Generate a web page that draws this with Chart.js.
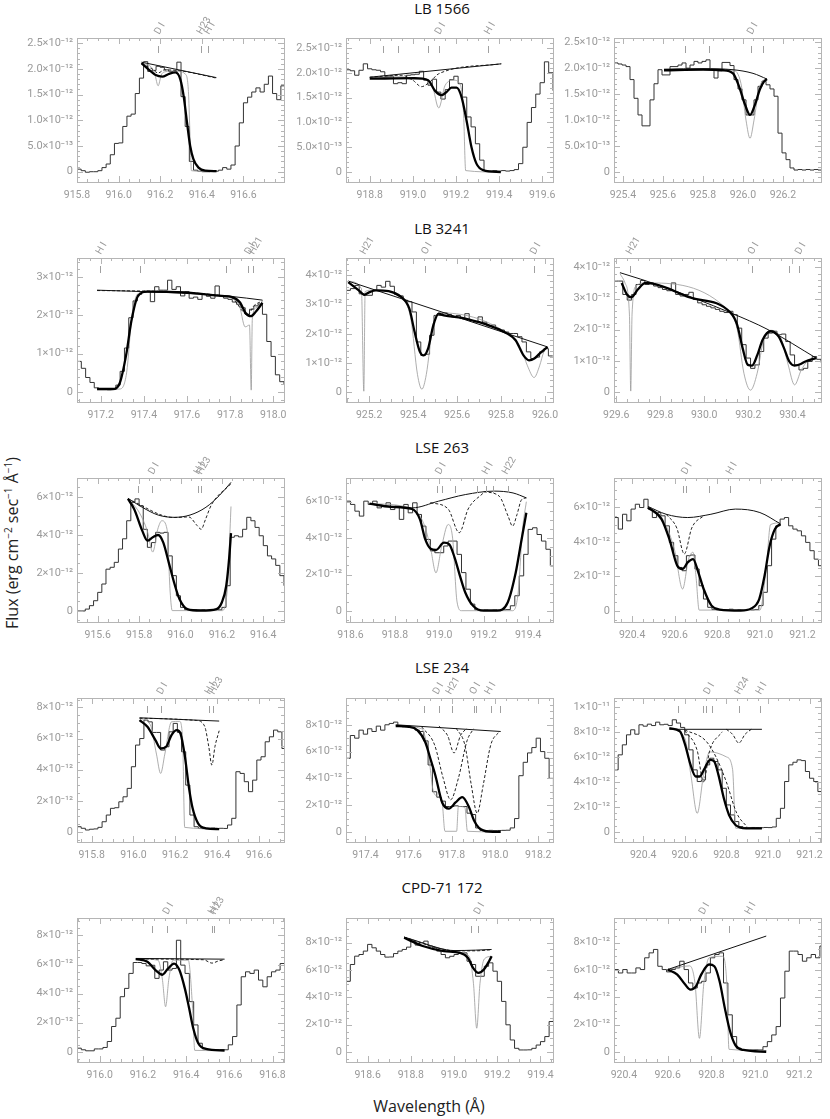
<!DOCTYPE html>
<html>
<head>
<meta charset="utf-8">
<script src="https://cdn.jsdelivr.net/npm/chart.js@4.4.1/dist/chart.umd.min.js"></script>
<style>
  html, body { margin: 0; padding: 0; background: #fff; }
  #fig { position: relative; width: 830px; height: 1119px; overflow: hidden; }
  #fig canvas { position: absolute; }
  .star { position: absolute; width: 200px; margin-left: -100px; text-align: center;
          font: 15px "Open Sans", sans-serif; color: #111; line-height: 20px; }
  #ytitle { position: absolute; left: 12px; top: 543px; white-space: nowrap;
            transform: translate(-50%, -50%) rotate(-90deg);
            font: 16px "Open Sans", sans-serif; color: #222; }
  #xtitle { position: absolute; left: 429px; top: 1106px; white-space: nowrap;
            transform: translate(-50%, -50%); font: 16px "Open Sans", sans-serif; color: #222; }
  sup { font-size: 10px; }
</style>
</head>
<body>
<div id="fig">
  <div id="ytitle">Flux (erg cm<sup>−2</sup> sec<sup>−1</sup> Å<sup>−1</sup>)</div>
  <div id="xtitle">Wavelength (Å)</div>
</div>
<script>
// star names, one per row
const stars = ['LB 1566', 'LB 3241', 'LSE 263', 'LSE 234', 'CPD-71 172'];

// tick labels
const xT1 = [915.8, 916.0, 916.2, 916.4, 916.6];
const xT2 = [918.8, 919.0, 919.2, 919.4, 919.6];
const xT3 = [925.4, 925.6, 925.8, 926.0, 926.2];
const xT4 = [917.2, 917.4, 917.6, 917.8, 918.0];
const xT5 = [925.2, 925.4, 925.6, 925.8, 926.0];
const xT6 = [929.6, 929.8, 930.0, 930.2, 930.4];
const xT7 = [915.6, 915.8, 916.0, 916.2, 916.4];
const xT8 = [918.6, 918.8, 919.0, 919.2, 919.4];
const xT9 = [920.4, 920.6, 920.8, 921.0, 921.2];
const xT11 = [917.4, 917.6, 917.8, 918.0, 918.2];
const xT13 = [916.0, 916.2, 916.4, 916.6, 916.8];

const yTa = [0, 0.5, 1, 1.5, 2, 2.5];
const yLa = ['0', '5.0×10⁻¹³', '1.0×10⁻¹²', '1.5×10⁻¹²', '2.0×10⁻¹²', '2.5×10⁻¹²'];
const yTb = [0, 1, 2, 3];
const yLb = ['0', '1×10⁻¹²', '2×10⁻¹²', '3×10⁻¹²'];
const yTc = [0, 1, 2, 3, 4];
const yLc = ['0', '1×10⁻¹²', '2×10⁻¹²', '3×10⁻¹²', '4×10⁻¹²'];
const yTd = [0, 2, 4, 6];
const yLd = ['0', '2×10⁻¹²', '4×10⁻¹²', '6×10⁻¹²'];
const yTe = [0, 2, 4, 6, 8];
const yLe = ['0', '2×10⁻¹²', '4×10⁻¹²', '6×10⁻¹²', '8×10⁻¹²'];
const yTf = [0, 2, 4, 6, 8, 10];
const yLf = ['0', '2×10⁻¹²', '4×10⁻¹²', '6×10⁻¹²', '8×10⁻¹²', '1×10⁻¹¹'];

// observed spectra: first bin wavelength + flux per 0.02 A bin (units 1e-12)
const binWidth = 0.02;
const p1Start = 915.80;
const p1Flux = [0.05,0.02,-0.01,0.0,0.0,0.02,0.08,0.15,0.33,0.55,0.56,0.88,1.08,1.12,1.52,1.82,2.14,1.95,1.97,2.05,2.03,1.98,1.95,1.93,2.13,1.46,0.88,0.2,0.03,0.01,0.0,0.0,0.02,0.01,0.03,0.08,0.05,0.13,0.5,0.95,1.34,1.45,1.55,1.63,1.55,1.7,1.86,1.52,1.4,1.67];
const p2Start = 918.69;
const p2Flux = [2.06,2.04,1.95,2.05,2.18,2.08,2.06,2.05,2.02,1.93,1.93,1.78,1.8,1.78,1.95,1.96,1.97,2.03,1.85,1.75,1.87,1.61,1.47,1.66,1.86,1.93,1.78,1.51,1.11,0.91,0.57,0.24,0.03,0.02,0.03,0.02,0.03,0.02,0.03,0.05,0.17,0.5,1.0,1.3,1.57,1.8,2.22,2.0,1.64];
const p3Start = 925.355;
const p3Flux = [2.1,2.08,2.06,2.03,1.78,1.42,1.1,0.89,0.89,1.39,1.7,1.97,1.87,1.87,2.03,2.03,2.06,2.1,2.0,2.06,2.13,2.1,2.13,2.16,1.97,1.81,1.95,2.11,2.11,2.05,1.78,1.6,1.39,1.1,1.1,1.39,1.65,1.75,1.68,1.6,1.46,0.75,0.37,0.24,0.08,0.04,0.05,0.04,0.05,0.04,0.05,0.04];
const p4Start = 917.09;
const p4Flux = [0.8,0.62,0.38,0.25,0.11,0.07,0.07,0.06,0.07,0.18,0.54,1.15,1.94,2.38,2.55,2.62,2.62,2.36,2.75,2.66,2.66,2.92,2.68,2.75,2.51,2.62,2.45,2.48,2.42,2.55,2.5,2.45,2.77,2.5,2.45,2.42,2.35,2.29,2.2,2.03,2.16,2.25,2.3,2.03,1.32,0.93,0.45,0.27,0.2];
const p5Start = 925.095;
const p5Flux = [3.49,3.55,3.66,3.37,3.32,3.32,3.49,3.66,3.6,3.8,3.63,3.35,3.3,3.15,3.1,2.75,1.72,1.26,1.3,1.95,2.63,2.63,2.72,2.66,2.58,2.63,2.52,2.69,2.45,2.4,2.58,2.4,2.27,2.3,2.18,2.13,2.06,2.01,2.01,1.9,1.72,1.38,1.15,1.2,1.38,1.49,1.24];
const p6Start = 929.59;
const p6Flux = [3.56,3.56,3.13,2.95,3.13,3.45,3.58,3.45,3.5,3.4,3.35,3.29,3.25,3.5,3.13,3.08,3.13,3.2,2.97,2.86,2.8,2.75,2.7,2.65,2.59,2.55,2.59,2.48,2.05,1.52,1.09,0.76,0.87,1.3,1.73,1.89,1.95,1.84,1.86,1.62,1.19,0.87,0.71,0.76,0.98,1.14,1.05,0.95];
const p7Start = 915.50;
const p7Flux = [0.0,0.0,0.1,0.28,0.54,0.98,1.42,2.2,2.3,2.56,3.26,3.8,4.75,5.72,5.9,5.54,4.3,3.35,3.6,4.14,4.1,4.14,2.9,1.86,0.8,0.19,0.07,0.05,0.07,0.06,0.07,0.05,0.06,0.07,0.06,0.19,1.33,3.88,3.96,3.9,4.3,4.93,4.75,4.4,3.96,3.44,2.9,2.74,2.4,1.86,1.33];
const p8Start = 918.58;
const p8Flux = [6.03,5.85,5.48,5.21,6.03,5.85,6.03,5.66,5.75,5.94,5.57,5.75,5.03,5.85,5.39,5.94,5.3,4.66,3.93,3.3,3.2,3.2,3.57,3.84,3.84,3.11,2.11,1.2,0.38,0.07,0.05,0.07,0.06,0.07,0.05,0.07,0.08,0.29,0.84,1.93,3.11,4.48,4.57,4.2,3.84,3.39,2.48,2.3];
const p9Start = 920.315;
const p9Flux = [5.41,4.74,5.6,5.22,5.9,6.18,5.99,6.47,5.9,5.41,5.7,5.51,4.93,3.97,3.2,2.52,2.33,3.2,3.24,2.43,1.46,0.69,0.21,0.08,0.06,0.08,0.07,0.1,0.06,0.08,0.07,0.09,0.06,0.08,0.31,1.08,2.62,4.16,4.93,5.32,5.41,4.93,4.74,4.64,4.35,3.97,3.49,3.0,2.62,2.24];
const p10Start = 915.73;
const p10Flux = [0.34,0.24,0.13,0.18,0.2,0.3,0.66,1.09,1.52,1.56,1.94,2.26,2.8,4.19,5.58,6.0,7.18,7.07,6.39,6.39,5.26,5.47,6.43,6.97,6.39,5.15,3.01,1.09,0.34,0.24,0.22,0.24,0.25,0.22,0.24,0.23,0.45,0.88,3.87,3.76,3.23,2.59,3.33,4.62,4.83,5.79,6.11,6.54,6.43,5.36,4.83];
const p11Start = 917.31;
const p11Flux = [5.5,7.2,7.0,7.6,7.3,7.7,7.5,7.9,7.6,8.0,8.1,8.2,7.95,7.85,7.9,7.8,7.6,7.5,6.8,5.0,3.0,2.6,2.3,1.9,1.9,1.95,1.9,1.9,1.4,1.3,0.3,0.12,0.1,0.12,0.1,0.11,0.12,0.13,0.3,1.0,4.2,5.2,5.9,6.3,7.0,6.0,5.5,4.0,2.6];
const p12Start = 920.26;
const p12Flux = [4.96,6.16,6.96,7.76,8.16,7.81,8.56,8.45,8.61,8.5,8.77,8.56,8.6,8.5,8.96,8.7,8.35,7.76,6.56,4.96,4.03,4.16,5.36,5.89,5.63,4.96,3.49,2.16,1.36,0.83,0.43,0.35,0.33,0.36,0.35,0.34,0.36,0.35,0.4,1.09,1.89,4.03,5.36,5.57,5.76,5.7,4.83,4.29,4.03,3.23,3.09];
const p13Start = 915.895;
const p13Flux = [0.25,0.14,0.07,0.07,0.2,0.2,0.3,0.71,1.74,2.31,3.79,4.36,5.39,6.14,6.14,6.07,5.91,5.95,5.05,5.62,6.19,5.62,5.73,7.67,5.96,5.39,3.45,1.85,0.59,0.2,0.14,0.12,0.14,0.15,0.14,0.48,1.05,3.22,5.16,5.5,5.39,5.62,4.93,4.47,5.16,5.5,5.62,6.07,6.07];
const p14Start = 918.50;
const p14Flux = [5.17,6.4,7.01,7.13,7.38,7.87,7.62,7.38,7.13,6.94,6.95,7.2,7.38,7.5,7.67,8.11,7.82,7.99,8.11,7.75,7.62,7.38,7.13,6.89,7.0,7.13,7.25,7.25,6.64,6.4,5.54,5.54,6.27,6.52,5.91,5.17,3.7,1.99,0.88,0.27,0.15,0.15,0.16,0.27,0.51,0.76,1.13,2.23,3.7];
const p15Start = 920.355;
const p15Flux = [6.03,5.78,6.03,5.78,5.78,6.15,6.03,6.89,7.25,7.5,6.27,6.03,5.86,6.03,6.15,6.64,6.03,5.05,4.68,5.05,5.17,5.78,6.89,7.13,7.25,5.05,2.72,1.13,0.27,0.15,0.14,0.15,0.16,0.15,0.39,0.76,1.25,1.86,3.95,5.91,7.38,7.38,7.13,6.64,6.89,7.13,6.89,7.75,7.99];

// model curves [wavelength, flux]: fit (thick), intrinsic (thin grey), continuum, components (dashed)
const p1Fit = [[916.11,2.11],[916.146,1.98],[916.178,1.88],[916.21,1.85],[916.241,1.9],[916.273,1.93],[916.297,1.79],[916.313,1.46],[916.329,0.95],[916.344,0.5],[916.36,0.24],[916.384,0.08],[916.416,0.02],[916.471,0.01]];
const p1Thin = [[916.11,2.11],[916.16,2.02],[916.175,1.88],[916.19,1.67],[916.205,1.88],[916.22,1.94],[916.28,1.96],[916.32,1.9],[916.335,1.6],[916.345,0.5],[916.35,0.02],[916.47,0.0]];
const p1Cont = [[916.11,2.13],[916.47,1.83]];
const p1Dash = [[[916.11,2.1],[916.16,2.0],[916.19,1.92],[916.22,1.98],[916.3,1.96],[916.47,1.82]]];

const p2Fit = [[918.80,1.88],[919.009,1.89],[919.071,1.85],[919.102,1.64],[919.133,1.55],[919.156,1.61],[919.179,1.7],[919.203,1.7],[919.226,1.51],[919.249,1.04],[919.272,0.5],[919.295,0.17],[919.326,0.04],[919.408,0.0]];
const p2Thin = [[918.80,1.9],[918.95,1.92],[919.0,1.86],[919.05,1.88],[919.09,1.75],[919.12,1.29],[919.15,1.75],[919.19,1.85],[919.215,1.8],[919.235,1.2],[919.245,0.03],[919.408,0.0]];
const p2Cont = [[918.80,1.91],[919.41,2.18]];
const p2Dash = [[[918.80,1.91],[918.95,1.95],[919.0,1.85],[919.04,1.72],[919.08,1.82],[919.12,1.98],[919.41,2.18]]];

const p3Fit = [[925.605,1.96],[925.8,1.97],[925.9,1.96],[925.95,1.9],[925.98,1.65],[926.01,1.3],[926.035,1.1],[926.06,1.3],[926.085,1.6],[926.105,1.74],[926.12,1.79]];
const p3Thin = [[925.605,1.97],[925.95,1.96],[925.99,1.7],[926.015,1.0],[926.035,0.65],[926.055,1.0],[926.08,1.6],[926.1,1.76],[926.12,1.79]];
const p3Cont = [[925.605,1.98],[925.8,1.99],[925.95,1.97],[926.05,1.9],[926.12,1.79]];
const p3Dash = [];

const p4Fit = [[917.183,0.08],[917.256,0.08],[917.288,0.23],[917.318,0.97],[917.342,1.85],[917.372,2.5],[917.416,2.62],[917.589,2.6],[917.761,2.51],[917.81,2.48],[917.847,2.33],[917.871,2.07],[917.896,1.98],[917.921,2.11],[917.95,2.33]];
const p4Thin = [[917.183,0.06],[917.29,0.08],[917.32,0.5],[917.345,2.0],[917.37,2.55],[917.42,2.64],[917.76,2.5],[917.84,2.3],[917.87,1.7],[917.89,1.75],[917.898,0.05],[917.903,1.9],[917.92,2.2],[917.95,2.35]];
const p4Cont = [[917.183,2.66],[917.5,2.6],[917.8,2.5],[917.95,2.4]];
const p4Dash = [[[917.183,2.65],[917.8,2.49],[917.86,2.1],[917.88,2.0],[917.91,2.25],[917.95,2.38]]];

const p5Fit = [[925.105,3.77],[925.153,3.49],[925.178,3.34],[925.202,3.43],[925.231,3.49],[925.347,3.26],[925.383,2.86],[925.407,2.06],[925.431,1.38],[925.448,1.26],[925.468,1.49],[925.492,2.29],[925.516,2.69],[925.54,2.63],[925.637,2.52],[925.83,2.0],[925.866,1.78],[925.902,1.26],[925.927,1.09],[925.951,1.15],[925.975,1.32],[926.011,1.55]];
const p5Thin = [[925.105,3.8],[925.165,3.55],[925.176,0.03],[925.182,3.45],[925.22,3.5],[925.35,3.2],[925.39,2.5],[925.42,0.6],[925.44,0.1],[925.46,0.6],[925.49,2.3],[925.52,2.72],[925.83,2.0],[925.89,1.5],[925.92,0.9],[925.95,0.5],[925.975,0.9],[925.995,1.4],[926.011,1.55]];
const p5Cont = [[925.104,3.81],[926.011,1.55]];
const p5Dash = [];

const p6Fit = [[929.625,3.5],[929.649,3.13],[929.669,3.04],[929.698,3.29],[929.734,3.5],[929.806,3.4],[929.927,3.05],[930.12,2.54],[930.149,2.16],[930.174,1.41],[930.198,0.87],[930.217,0.85],[930.241,1.19],[930.265,1.68],[930.301,1.95],[930.338,1.78],[930.362,1.41],[930.386,0.98],[930.41,0.85],[930.435,0.89],[930.459,0.98],[930.507,1.09]];
const p6Thin = [[929.617,3.8],[929.64,3.5],[929.66,2.5],[929.666,0.03],[929.672,2.5],[929.69,3.4],[929.734,3.5],[930.12,2.54],[930.15,2.0],[930.18,0.6],[930.21,0.06],[930.24,0.6],[930.27,1.7],[930.3,1.98],[930.35,1.7],[930.38,0.9],[930.41,0.23],[930.44,0.7],[930.47,1.0],[930.507,1.09]];
const p6Cont = [[929.617,3.83],[929.806,3.4],[930.12,2.54],[930.29,2.0],[930.508,1.09]];
const p6Dash = [];

const p7Fit = [[915.746,5.9],[915.776,5.37],[915.815,4.23],[915.84,3.7],[915.866,3.88],[915.892,4.0],[915.917,3.6],[915.943,2.56],[915.969,1.5],[915.995,0.63],[916.033,0.1],[916.098,0.02],[916.174,0.1],[916.2,0.46],[916.221,1.33],[916.236,2.9],[916.244,4.1]];
const p7Thin = [[915.746,5.9],[915.8,5.2],[915.84,4.2],[915.866,3.1],[915.89,4.3],[915.91,4.75],[915.935,4.3],[915.95,1.0],[915.96,0.02],[916.2,0.02],[916.225,1.0],[916.244,5.5]];
const p7Cont = [[915.746,5.93],[915.815,5.46],[915.892,5.05],[915.969,4.93],[916.046,5.05],[916.123,5.46],[916.187,6.07],[916.244,6.77]];
const p7Dash = [[[915.746,5.9],[915.969,4.92],[916.04,4.95],[916.08,4.5],[916.1,4.3],[916.12,4.8],[916.15,5.6],[916.244,6.7]]];

const p8Fit = [[918.686,5.9],[918.781,5.72],[918.877,5.6],[918.913,5.03],[918.937,3.93],[918.961,3.42],[918.985,3.35],[919.021,3.75],[919.045,3.66],[919.069,2.93],[919.093,1.93],[919.117,1.02],[919.152,0.29],[919.2,0.02],[919.26,0.02],[919.308,0.47],[919.344,2.1],[919.368,3.75],[919.392,5.39]];
const p8Thin = [[918.686,5.9],[918.877,5.62],[918.93,4.8],[918.96,3.5],[918.985,2.1],[919.01,3.5],[919.04,4.75],[919.06,4.0],[919.08,0.5],[919.1,0.02],[919.33,0.02],[919.355,1.0],[919.375,4.5],[919.392,6.0]];
const p8Cont = [[918.686,5.9],[918.877,5.66],[918.997,6.03],[919.117,6.39],[919.248,6.58],[919.332,6.48],[919.392,6.21]];
const p8Dash = [[[919.2,6.55],[919.27,6.3],[919.31,5.2],[919.33,4.66],[919.35,5.3],[919.37,6.1],[919.392,6.21]],
                [[918.96,5.95],[919.04,5.6],[919.09,4.3],[919.13,5.6],[919.2,6.5]]];

const p9Fit = [[920.475,5.99],[920.538,5.32],[920.575,4.16],[920.612,2.62],[920.637,2.43],[920.661,2.81],[920.686,3.0],[920.711,2.24],[920.736,1.27],[920.773,0.31],[920.811,0.08],[920.91,0.02],[920.96,0.15],[920.997,0.69],[921.022,2.04],[921.046,3.78],[921.071,4.74],[921.096,5.03]];
const p9Thin = [[920.475,6.0],[920.54,5.4],[920.6,3.5],[920.637,1.27],[920.665,3.0],[920.686,3.4],[920.7,2.0],[920.715,0.05],[921.0,0.05],[921.03,2.5],[921.05,5.0],[921.096,5.1]];
const p9Cont = [[920.475,6.05],[920.56,5.6],[920.661,5.41],[920.77,5.6],[920.885,5.9],[921.0,5.7],[921.096,5.05]];
const p9Dash = [[[920.56,5.6],[920.61,4.8],[920.645,3.3],[920.68,4.8],[920.74,5.55]]];

const p10Fit = [[916.029,7.18],[916.067,6.75],[916.105,5.9],[916.131,5.36],[916.156,5.47],[916.182,6.22],[916.207,6.54],[916.225,6.32],[916.245,4.94],[916.266,2.8],[916.283,1.52],[916.309,0.56],[916.347,0.24],[916.41,0.19]];
const p10Thin = [[916.029,7.3],[916.08,6.9],[916.11,5.0],[916.13,3.76],[916.15,5.0],[916.182,7.07],[916.22,7.1],[916.235,6.0],[916.245,0.3],[916.41,0.2]];
const p10Cont = [[916.029,7.33],[916.41,7.12]];
const p10Dash = [[[916.029,7.3],[916.3,7.16],[916.34,6.8],[916.36,5.5],[916.375,4.29],[916.39,5.5],[916.41,6.5]]];

const p11Fit = [[917.54,7.9],[917.6,7.85],[917.64,7.6],[917.677,6.7],[917.7,5.5],[917.724,4.2],[917.755,2.2],[917.786,1.74],[917.817,2.2],[917.848,2.6],[917.879,1.87],[917.902,0.87],[917.925,0.3],[917.972,0.02],[918.026,0.0]];
const p11Thin = [[917.54,7.95],[917.66,7.7],[917.69,6.0],[917.715,3.0],[917.74,2.6],[917.755,2.2],[917.768,0.05],[917.822,0.05],[917.83,1.9],[917.86,1.85],[917.872,0.05],[918.026,0.0]];
const p11Cont = [[917.54,8.0],[918.026,7.5]];
const p11Dash = [[[917.66,7.85],[917.72,6.5],[917.76,4.0],[917.794,2.4],[917.83,4.0],[917.87,6.8],[917.9,7.7]],
                 [[917.82,7.75],[917.86,6.5],[917.89,3.5],[917.917,1.4],[917.945,3.5],[917.98,6.5],[918.02,7.5]],
                 [[917.74,7.9],[917.78,7.2],[917.81,5.9],[917.84,7.2],[917.87,7.75]]];

const p12Fit = [[920.526,8.29],[920.577,8.03],[920.602,6.96],[920.628,5.36],[920.653,4.43],[920.671,4.43],[920.696,5.09],[920.722,5.76],[920.742,5.63],[920.762,4.56],[920.788,2.69],[920.813,1.36],[920.844,0.56],[920.895,0.29],[920.971,0.29]];
const p12Thin = [[920.526,8.3],[920.6,7.5],[920.63,4.5],[920.66,1.49],[920.69,4.5],[920.72,6.4],[920.8,6.0],[920.83,5.0],[920.845,0.3],[920.971,0.28]];
const p12Cont = [[920.526,8.2],[920.971,8.2]];
const p12Dash = [[[920.8,8.2],[920.83,7.8],[920.86,7.1],[920.89,7.8],[920.92,8.2]],
                 [[920.6,8.1],[920.66,6.5],[920.69,4.0],[920.72,6.5],[920.78,8.0]],
                 [[920.6,8.15],[920.7,7.3],[920.75,6.0],[920.8,4.0],[920.85,1.5],[920.9,0.4]]];

const p13Fit = [[916.167,6.37],[916.221,6.19],[916.258,5.62],[916.29,5.3],[916.315,5.7],[916.344,6.07],[916.369,5.62],[916.394,4.36],[916.414,2.99],[916.433,1.62],[916.456,0.59],[916.492,0.2],[916.578,0.09]];
const p13Thin = [[916.167,6.4],[916.27,6.3],[916.29,5.0],[916.305,3.1],[916.32,5.0],[916.34,6.3],[916.41,6.3],[916.43,3.0],[916.44,0.1],[916.578,0.08]];
const p13Cont = [[916.167,6.42],[916.578,6.37]];
const p13Dash = [[[916.167,6.38],[916.48,6.33],[916.52,6.1],[916.55,6.25],[916.578,6.33]]];

const p14Fit = [[918.769,8.36],[918.855,7.75],[918.953,7.38],[919.027,7.25],[919.064,6.89],[919.088,6.15],[919.113,5.78],[919.138,6.03],[919.162,6.64],[919.174,7.01]];
const p14Thin = [[918.769,8.4],[919.02,7.3],[919.07,7.0],[919.09,5.0],[919.105,1.74],[919.12,5.0],[919.14,6.8],[919.174,7.0]];
const p14Cont = [[918.769,8.41],[918.85,8.0],[918.93,7.6],[919.0,7.42],[919.1,7.45],[919.174,7.5]];
const p14Dash = [[[918.769,8.4],[918.93,7.58],[919.0,7.4],[919.1,7.4],[919.174,7.48]]];

const p15Fit = [[920.60,6.03],[920.644,5.66],[920.68,4.93],[920.704,4.56],[920.729,4.8],[920.753,5.66],[920.789,6.4],[920.813,6.27],[920.837,5.17],[920.861,3.21],[920.885,1.5],[920.909,0.51],[920.946,0.15],[921.05,0.02]];
const p15Thin = [[920.60,6.03],[920.7,6.3],[920.725,5.0],[920.745,1.0],[920.765,5.0],[920.79,6.9],[920.85,7.0],[920.87,5.0],[920.88,0.2],[921.05,0.1]];
const p15Cont = [[920.60,6.03],[921.05,8.48]];
const p15Dash = [];

// line identifications: tick positions and labels
const p1Marks = [916.19, 916.395, 916.43];
const p1Labels = [[916.19, 'D I'], [916.395, 'H23'], [916.43, 'H I']];
const p2Marks = [918.86, 918.93, 919.07, 919.12, 919.35];
const p2Labels = [[919.12, 'D I'], [919.35, 'H I']];
const p3Marks = [925.71, 925.83, 926.04, 926.1];
const p3Labels = [[926.04, 'D I']];
const p4Marks = [917.195, 917.38, 917.78, 917.885, 917.905];
const p4Labels = [[917.195, 'H I'], [917.885, 'D I'], [917.905, 'H21']];
const p5Marks = [925.177, 925.455, 925.64, 925.95];
const p5Labels = [[925.177, 'H21'], [925.455, 'O I'], [925.95, 'D I']];
const p6Marks = [929.663, 930.216, 930.385, 930.43];
const p6Labels = [[929.663, 'H21'], [930.216, 'O I'], [930.43, 'D I']];
const p7Marks = [915.796, 915.864, 916.083, 916.097];
const p7Labels = [[915.864, 'D I'], [916.083, 'H I'], [916.097, 'H23']];
const p8Marks = [918.99, 919.01, 919.07, 919.17, 919.21, 919.24, 919.31];
const p8Labels = [[919.0, 'D I'], [919.21, 'H I'], [919.3, 'H22']];
const p9Marks = [920.64, 920.653, 920.76, 920.86];
const p9Labels = [[920.65, 'D I'], [920.86, 'H I']];
const p10Marks = [916.067, 916.13, 916.36, 916.38];
const p10Labels = [[916.13, 'D I'], [916.36, 'H I'], [916.38, 'H23']];
const p11Marks = [917.673, 917.739, 917.802, 917.902, 917.913, 917.98, 918.023];
const p11Labels = [[917.73, 'D I'], [917.79, 'H21'], [917.9, 'O I'], [917.97, 'H I']];
const p12Marks = [920.57, 920.69, 920.7, 920.73, 920.86, 920.96];
const p12Labels = [[920.71, 'D I'], [920.86, 'H24'], [920.96, 'H I']];
const p13Marks = [916.24, 916.31, 916.52, 916.53];
const p13Labels = [[916.31, 'D I'], [916.52, 'H I'], [916.53, 'H23']];
const p14Marks = [919.08, 919.11];
const p14Labels = [[919.11, 'D I']];
const p15Marks = [920.75, 920.77, 920.88, 920.97];
const p15Labels = [[920.76, 'D I'], [920.97, 'H I']];

const panels = [
  {row: 0, col: 0, start: p1Start, flux: p1Flux, fit: p1Fit, thin: p1Thin, cont: p1Cont, dash: p1Dash, marks: p1Marks, labels: p1Labels, xr: [915.8, 916.795], xt: xT1, yr: [-0.2, 2.6], yt: yTa, yl: yLa, ym: 5},
  {row: 0, col: 1, start: p2Start, flux: p2Flux, fit: p2Fit, thin: p2Thin, cont: p2Cont, dash: p2Dash, marks: p2Marks, labels: p2Labels, xr: [918.69, 919.65], xt: xT2, yr: [-0.2, 2.7], yt: yTa, yl: yLa, ym: 5},
  {row: 0, col: 2, start: p3Start, flux: p3Flux, fit: p3Fit, thin: p3Thin, cont: p3Cont, dash: p3Dash, marks: p3Marks, labels: p3Labels, xr: [925.355, 926.39], xt: xT3, yr: [-0.19, 2.58], yt: yTa, yl: yLa, ym: 5},
  {row: 1, col: 0, start: p4Start, flux: p4Flux, fit: p4Fit, thin: p4Thin, cont: p4Cont, dash: p4Dash, marks: p4Marks, labels: p4Labels, xr: [917.09, 918.05], xt: xT4, yr: [-0.26, 3.5], yt: yTb, yl: yLb, ym: 5},
  {row: 1, col: 1, start: p5Start, flux: p5Flux, fit: p5Fit, thin: p5Thin, cont: p5Cont, dash: p5Dash, marks: p5Marks, labels: p5Labels, xr: [925.095, 926.036], xt: xT5, yr: [-0.34, 4.6], yt: yTc, yl: yLc, ym: 5},
  {row: 1, col: 2, start: p6Start, flux: p6Flux, fit: p6Fit, thin: p6Thin, cont: p6Cont, dash: p6Dash, marks: p6Marks, labels: p6Labels, xr: [929.59, 930.53], xt: xT6, yr: [-0.32, 4.3], yt: yTc, yl: yLc, ym: 5},
  {row: 2, col: 0, start: p7Start, flux: p7Flux, fit: p7Fit, thin: p7Thin, cont: p7Cont, dash: p7Dash, marks: p7Marks, labels: p7Labels, xr: [915.5, 916.5], xt: xT7, yr: [-0.58, 7.0], yt: yTd, yl: yLd, ym: 4},
  {row: 2, col: 1, start: p8Start, flux: p8Flux, fit: p8Fit, thin: p8Thin, cont: p8Cont, dash: p8Dash, marks: p8Marks, labels: p8Labels, xr: [918.58, 919.512], xt: xT8, yr: [-0.6, 7.3], yt: yTd, yl: yLd, ym: 4},
  {row: 2, col: 2, start: p9Start, flux: p9Flux, fit: p9Fit, thin: p9Thin, cont: p9Cont, dash: p9Dash, marks: p9Marks, labels: p9Labels, xr: [920.315, 921.287], xt: xT9, yr: [-0.64, 7.7], yt: yTd, yl: yLd, ym: 4},
  {row: 3, col: 0, start: p10Start, flux: p10Flux, fit: p10Fit, thin: p10Thin, cont: p10Cont, dash: p10Dash, marks: p10Marks, labels: p10Labels, xr: [915.73, 916.72], xt: xT1, yr: [-0.64, 8.6], yt: yTe, yl: yLe, ym: 4},
  {row: 3, col: 1, start: p11Start, flux: p11Flux, fit: p11Fit, thin: p11Thin, cont: p11Cont, dash: p11Dash, marks: p11Marks, labels: p11Labels, xr: [917.31, 918.268], xt: xT11, yr: [-0.75, 10.0], yt: yTe, yl: yLe, ym: 4},
  {row: 3, col: 2, start: p12Start, flux: p12Flux, fit: p12Fit, thin: p12Thin, cont: p12Cont, dash: p12Dash, marks: p12Marks, labels: p12Labels, xr: [920.26, 921.255], xt: xT9, yr: [-0.8, 10.7], yt: yTf, yl: yLf, ym: 4},
  {row: 4, col: 0, start: p13Start, flux: p13Flux, fit: p13Fit, thin: p13Thin, cont: p13Cont, dash: p13Dash, marks: p13Marks, labels: p13Labels, xr: [915.895, 916.853], xt: xT13, yr: [-0.7, 9.2], yt: yTe, yl: yLe, ym: 4},
  {row: 4, col: 1, start: p14Start, flux: p14Flux, fit: p14Fit, thin: p14Thin, cont: p14Cont, dash: p14Dash, marks: p14Marks, labels: p14Labels, xr: [918.5, 919.458], xt: xT8, yr: [-0.73, 9.8], yt: yTe, yl: yLe, ym: 4},
  {row: 4, col: 2, start: p15Start, flux: p15Flux, fit: p15Fit, thin: p15Thin, cont: p15Cont, dash: p15Dash, marks: p15Marks, labels: p15Labels, xr: [920.355, 921.3], xt: xT9, yr: [-0.73, 9.8], yt: yTe, yl: yLe, ym: 4}
];

const FONT = 'Roboto, "DejaVu Sans", sans-serif';
const GREY = '#9a9a9a';
const frameLeft = [77, 346, 614];
const frameTop = [38, 258, 478, 698, 918];
const titleY = [8, 228, 447, 667, 887];

const fig = document.getElementById('fig');

stars.forEach((name, r) => {
  const d = document.createElement('div');
  d.className = 'star';
  d.textContent = name;
  d.style.left = '442px';
  d.style.top = (titleY[r] - 10) + 'px';
  fig.appendChild(d);
});

const toXY = a => a.map(([x, y]) => ({x, y}));

function histogram(start, flux) {
  const pts = flux.map((v, i) => ({x: start + i * binWidth, y: v}));
  pts.push({x: start + flux.length * binWidth, y: flux[flux.length - 1]});
  return pts;
}

// IDL-style frame: box, inward ticks, line identifications above
function framePlugin(p) {
  return {
    id: 'idlFrame',
    afterDraw(chart) {
      const {ctx, chartArea: a} = chart;
      const xs = chart.scales.x, ys = chart.scales.y;
      ctx.save();
      ctx.strokeStyle = '#b5b5b5';
      ctx.lineWidth = 1;
      ctx.strokeRect(Math.round(a.left) + 0.5, Math.round(a.top) + 0.5,
                     Math.round(a.right - a.left), Math.round(a.bottom - a.top));
      ctx.beginPath();
      const xMinor = 0.05;
      for (let k = Math.ceil(xs.min / xMinor - 1e-6); k * xMinor <= xs.max + 1e-9; k++) {
        const px = Math.round(xs.getPixelForValue(k * xMinor)) + 0.5;
        const len = (k % 4 === 0) ? 6 : 3;
        ctx.moveTo(px, a.bottom); ctx.lineTo(px, a.bottom - len);
        ctx.moveTo(px, a.top); ctx.lineTo(px, a.top + len);
      }
      const yStep = p.yt[1] - p.yt[0], yMinor = yStep / p.ym;
      for (let k = Math.ceil(ys.min / yMinor - 1e-6); k * yMinor <= ys.max + 1e-9; k++) {
        const py = Math.round(ys.getPixelForValue(k * yMinor)) + 0.5;
        const len = (((k % p.ym) + p.ym) % p.ym === 0) ? 6 : 3;
        ctx.moveTo(a.left, py); ctx.lineTo(a.left + len, py);
        ctx.moveTo(a.right, py); ctx.lineTo(a.right - len, py);
      }
      ctx.stroke();

      ctx.strokeStyle = '#a0a0a0';
      ctx.beginPath();
      p.marks.forEach(w => {
        const px = Math.round(xs.getPixelForValue(w)) + 0.5;
        ctx.moveTo(px, a.top + 8); ctx.lineTo(px, a.top + 15);
      });
      ctx.stroke();

      ctx.fillStyle = GREY;
      ctx.font = '10px ' + FONT;
      ctx.textAlign = 'left';
      ctx.textBaseline = 'alphabetic';
      p.labels.forEach(([w, txt]) => {
        const px = xs.getPixelForValue(w);
        ctx.save();
        ctx.translate(px + 1, a.top - 3);
        ctx.rotate(-Math.PI / 3);
        ctx.fillText(txt, 0, 0);
        ctx.restore();
      });
      ctx.restore();
    }
  };
}

panels.forEach(p => {
  const cv = document.createElement('canvas');
  cv.width = 283;
  cv.height = 204;
  cv.style.left = (frameLeft[p.col] - 62) + 'px';
  cv.style.top = (frameTop[p.row] - 38) + 'px';
  fig.appendChild(cv);

  const curve = {pointRadius: 0, cubicInterpolationMode: 'monotone', fill: false};
  const datasets = [
    {data: toXY(p.fit), borderColor: '#000', borderWidth: 2.3, order: 0, ...curve},
    {data: toXY(p.cont), borderColor: '#111', borderWidth: 1, order: 1, ...curve},
    ...p.dash.map(c => ({data: toXY(c), borderColor: '#222', borderWidth: 1, borderDash: [3, 2], order: 2, ...curve})),
    {data: toXY(p.thin), borderColor: '#999', borderWidth: 0.8, order: 3, ...curve},
    {data: histogram(p.start, p.flux), borderColor: '#333', borderWidth: 1, stepped: 'before', pointRadius: 0, order: 4}
  ];

  new Chart(cv, {
    type: 'line',
    data: {datasets},
    options: {
      responsive: false,
      animation: false,
      events: [],
      layout: {padding: {top: 38, right: 14, bottom: 0, left: 0}},
      plugins: {legend: {display: false}, tooltip: {enabled: false}},
      scales: {
        x: {
          type: 'linear', min: p.xr[0], max: p.xr[1],
          grid: {display: false, drawTicks: false}, border: {display: false},
          ticks: {color: GREY, font: {family: FONT, size: 10.5}, padding: 7, maxRotation: 0, autoSkip: false,
                  callback: v => v.toFixed(1)},
          afterBuildTicks: s => { s.ticks = p.xt.map(v => ({value: v})); },
          afterFit: s => { s.height = 22; }
        },
        y: {
          type: 'linear', min: p.yr[0], max: p.yr[1],
          grid: {display: false, drawTicks: false}, border: {display: false},
          ticks: {color: GREY, font: {family: FONT, size: 11}, padding: 4, autoSkip: false,
                  callback: v => { const i = p.yt.indexOf(v); return i >= 0 ? p.yl[i] : ''; }},
          afterBuildTicks: s => { s.ticks = p.yt.map(v => ({value: v})); },
          afterFit: s => { s.width = 62; }
        }
      }
    },
    plugins: [framePlugin(p)]
  });
});
</script>
</body>
</html>
